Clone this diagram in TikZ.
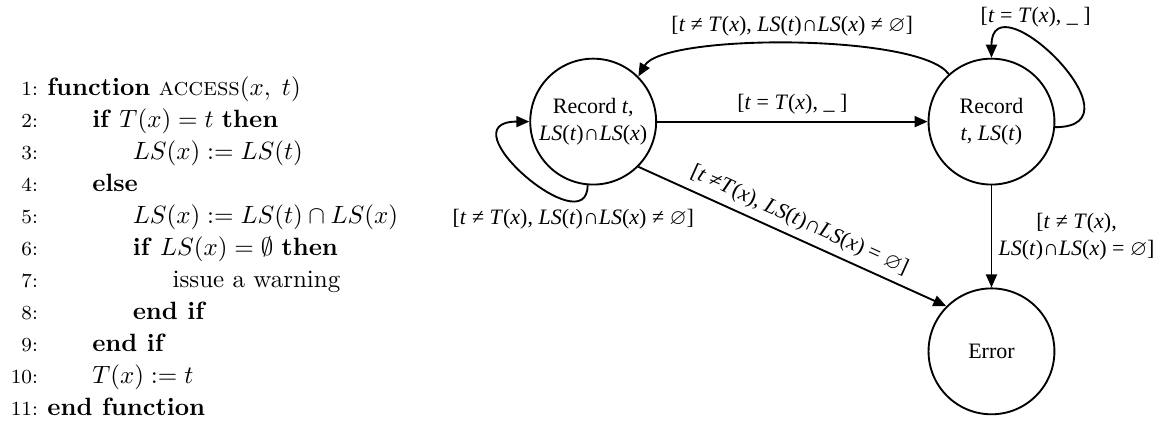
\documentclass[tikz,border=0pt]{standalone}
\usepackage{amsmath, amssymb}
\usepackage{fontspec}
\newfontfamily\tms{Liberation Serif}
\usepackage{tikz}
\usetikzlibrary{arrows.meta}

\newcommand{\tv}[1]{\textit{#1}}

\begin{document}
\begin{tikzpicture}[font=\normalsize,
  state/.style={draw, circle, line width=0.75pt, minimum size=1.77cm, inner sep=0pt,
    align=center, font=\tms\fontsize{8.8}{10.8}\selectfont},
  trans/.style={line width=0.75pt, -{Triangle[length=5.2pt, width=4.4pt]}},
  guard/.style={font=\tms\fontsize{8.8}{10.8}\selectfont, inner sep=2.5pt},
  codeline/.style={anchor=base west, inner sep=0pt}]
  \useasboundingbox (0,0) rectangle (16.45,5.92);
  % line numbers
  \foreach \i in {1,...,11}
    \node[anchor=base east, inner sep=0pt, font=\footnotesize] (num\i) at (0.54, {4.583-0.45*(\i-1)}) {\i:};
  % the procedure
  \node[codeline] (ln1) at (0.66, 4.583) {\textbf{function} \textsc{access}$(x,\;t)$};
  \node[codeline] (ln2) at (1.29, 4.133) {\textbf{if} $T(x) = t$ \textbf{then}};
  \node[codeline] (ln3) at (1.86, 3.683) {$LS(x) := LS(t)$};
  \node[codeline] (ln4) at (1.29, 3.233) {\textbf{else}};
  \node[codeline] (ln5) at (1.86, 2.783) {$LS(x) := LS(t) \cap LS(x)$};
  \node[codeline] (ln6) at (1.86, 2.333) {\textbf{if} $LS(x) = \emptyset$ \textbf{then}};
  \node[codeline] (ln7) at (2.42, 1.883) {issue a warning};
  \node[codeline] (ln8) at (1.86, 1.433) {\textbf{end if}};
  \node[codeline] (ln9) at (1.29, 0.983) {\textbf{end if}};
  \node[codeline] (ln10) at (1.29, 0.533) {$T(x) := t$};
  \node[codeline] (ln11) at (0.66, 0.083) {\textbf{end function}};
  % states
  \node[state] (rx) at (8.34, 4.21) {Record \tv{t},\\ \tv{LS}(\tv{t})∩\tv{LS}(\tv{x})};
  \node[state] (rt) at (13.94, 4.21) {Record\\ \tv{t}, \tv{LS}(\tv{t})};
  \node[state] (err) at (13.94, 0.98) {Error};
  % transitions
  \draw[trans] (rx) -- node[guard, above] (g1) {[\tv{t} = \tv{T}(\tv{x}), \_\ ]} (rt);
  \draw[trans] (rt.132) to[out=125, in=60, looseness=0.41]
    node[guard, above] (g2) {[\tv{t} ≠ \tv{T}(\tv{x}), \tv{LS}(\tv{t})∩\tv{LS}(\tv{x}) ≠ $\varnothing$]} (rx.45);
  \draw[trans] (rt.-5) .. controls +(1.3,0) and +(0,1.15) ..
    node[guard, above, pos=0.75, xshift=0.3cm] (g3) {[\tv{t} = \tv{T}(\tv{x}), \_\ ]} (rt.90);
  \draw[trans] (rx.265) .. controls +(0,-0.84) and +(-1.2,0) ..
    node[guard, below, pos=0.2] (g4) {[\tv{t} ≠ \tv{T}(\tv{x}), \tv{LS}(\tv{t})∩\tv{LS}(\tv{x}) ≠ $\varnothing$]} (rx.180);
  \draw[trans] (rx.-45) -- node[guard, above, sloped] (g5)
    {[\tv{t} ≠\tv{T}(\tv{x}), \tv{LS}(\tv{t})∩\tv{LS}(\tv{x}) = $\varnothing$]} (err.135);
  \draw[trans] (rt) -- node[guard, right, align=center] (g6)
    {[\tv{t} ≠ \tv{T}(\tv{x}),\\ \tv{LS}(\tv{t})∩\tv{LS}(\tv{x}) = $\varnothing$]} (err);
\end{tikzpicture}
\end{document}
